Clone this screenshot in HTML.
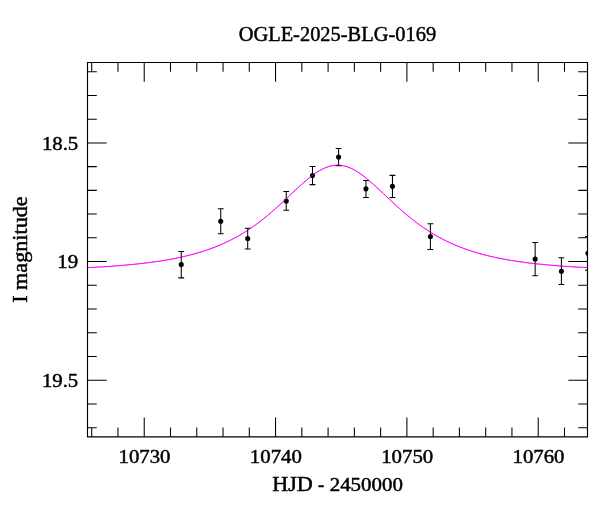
<!DOCTYPE html>
<html><head><meta charset="utf-8"><title>OGLE-2025-BLG-0169</title>
<style>html,body{margin:0;padding:0;background:#fff;overflow:hidden}svg{display:block}text{font-family:"Liberation Serif", serif;font-size:20px;fill:#000;stroke:#000;stroke-width:0.45px}text.n,tspan.n{font-size:19px}</style></head><body>
<svg width="600" height="512" viewBox="0 0 600 512">
<rect width="600" height="512" fill="#fff"/>
<defs><clipPath id="c"><rect x="87.5" y="62.5" width="500.5" height="374.3"/></clipPath></defs>
<path d="M87.5 267.63 L89.5 267.53 L91.5 267.43 L93.5 267.32 L95.5 267.21 L97.5 267.10 L99.5 266.99 L101.5 266.87 L103.5 266.74 L105.5 266.62 L107.5 266.49 L109.5 266.35 L111.5 266.21 L113.5 266.07 L115.5 265.92 L117.5 265.77 L119.5 265.61 L121.5 265.45 L123.5 265.28 L125.5 265.11 L127.5 264.93 L129.5 264.74 L131.5 264.55 L133.5 264.35 L135.5 264.15 L137.5 263.94 L139.5 263.72 L141.5 263.50 L143.5 263.27 L145.5 263.03 L147.5 262.78 L149.5 262.53 L151.5 262.26 L153.5 261.99 L155.5 261.71 L157.5 261.42 L159.5 261.12 L161.5 260.81 L163.5 260.48 L165.5 260.15 L167.5 259.81 L169.5 259.45 L171.5 259.08 L173.5 258.70 L175.5 258.31 L177.5 257.90 L179.5 257.48 L181.5 257.04 L183.5 256.59 L185.5 256.12 L187.5 255.64 L189.5 255.14 L191.5 254.62 L193.5 254.09 L195.5 253.53 L197.5 252.96 L199.5 252.37 L201.5 251.76 L203.5 251.12 L205.5 250.47 L207.5 249.79 L209.5 249.09 L211.5 248.36 L213.5 247.61 L215.5 246.84 L217.5 246.04 L219.5 245.21 L221.5 244.35 L223.5 243.47 L225.5 242.55 L227.5 241.61 L229.5 240.64 L231.5 239.63 L233.5 238.59 L235.5 237.52 L237.5 236.42 L239.5 235.28 L241.5 234.10 L243.5 232.90 L245.5 231.65 L247.5 230.37 L249.5 229.05 L251.5 227.70 L253.5 226.31 L255.5 224.88 L257.5 223.41 L259.5 221.91 L261.5 220.37 L263.5 218.80 L265.5 217.18 L267.5 215.54 L269.5 213.86 L271.5 212.15 L273.5 210.41 L275.5 208.64 L277.5 206.84 L279.5 205.02 L281.5 203.18 L283.5 201.33 L285.5 199.45 L287.5 197.57 L289.5 195.68 L291.5 193.79 L293.5 191.90 L295.5 190.02 L297.5 188.16 L299.5 186.32 L301.5 184.50 L303.5 182.73 L305.5 180.99 L307.5 179.30 L309.5 177.68 L311.5 176.12 L313.5 174.63 L315.5 173.22 L317.5 171.91 L319.5 170.69 L321.5 169.58 L323.5 168.58 L325.5 167.70 L327.5 166.94 L329.5 166.32 L331.5 165.82 L333.5 165.47 L335.5 165.25 L337.5 165.18 L339.5 165.25 L341.5 165.46 L343.5 165.81 L345.5 166.29 L347.5 166.91 L349.5 167.67 L351.5 168.54 L353.5 169.54 L355.5 170.64 L357.5 171.86 L359.5 173.17 L361.5 174.57 L363.5 176.05 L365.5 177.61 L367.5 179.24 L369.5 180.92 L371.5 182.65 L373.5 184.43 L375.5 186.24 L377.5 188.08 L379.5 189.94 L381.5 191.82 L383.5 193.71 L385.5 195.60 L387.5 197.49 L389.5 199.37 L391.5 201.25 L393.5 203.11 L395.5 204.95 L397.5 206.77 L399.5 208.57 L401.5 210.34 L403.5 212.08 L405.5 213.79 L407.5 215.47 L409.5 217.12 L411.5 218.73 L413.5 220.31 L415.5 221.85 L417.5 223.35 L419.5 224.82 L421.5 226.25 L423.5 227.64 L425.5 229.00 L427.5 230.32 L429.5 231.60 L431.5 232.84 L433.5 234.06 L435.5 235.23 L437.5 236.37 L439.5 237.48 L441.5 238.55 L443.5 239.59 L445.5 240.59 L447.5 241.57 L449.5 242.52 L451.5 243.43 L453.5 244.32 L455.5 245.17 L457.5 246.00 L459.5 246.81 L461.5 247.58 L463.5 248.33 L465.5 249.06 L467.5 249.76 L469.5 250.44 L471.5 251.10 L473.5 251.73 L475.5 252.34 L477.5 252.94 L479.5 253.51 L481.5 254.06 L483.5 254.60 L485.5 255.12 L487.5 255.62 L489.5 256.10 L491.5 256.57 L493.5 257.02 L495.5 257.46 L497.5 257.88 L499.5 258.29 L501.5 258.68 L503.5 259.07 L505.5 259.43 L507.5 259.79 L509.5 260.14 L511.5 260.47 L513.5 260.79 L515.5 261.10 L517.5 261.41 L519.5 261.70 L521.5 261.98 L523.5 262.25 L525.5 262.52 L527.5 262.77 L529.5 263.02 L531.5 263.26 L533.5 263.49 L535.5 263.72 L537.5 263.93 L539.5 264.14 L541.5 264.35 L543.5 264.54 L545.5 264.73 L547.5 264.92 L549.5 265.10 L551.5 265.27 L553.5 265.44 L555.5 265.60 L557.5 265.76 L559.5 265.91 L561.5 266.06 L563.5 266.21 L565.5 266.34 L567.5 266.48 L569.5 266.61 L571.5 266.74 L573.5 266.86 L575.5 266.98 L577.5 267.10 L579.5 267.21 L581.5 267.32 L583.5 267.42 L585.5 267.53 L587.5 267.63" fill="none" stroke="#ff00ff" stroke-width="1.0" clip-path="url(#c)"/>
<path d="M87.5 62.5 H587.5 V436.8 H87.5 Z" fill="none" stroke="#000" stroke-width="1.15"/>
<path d="M91.70 62.5 v9.3 M91.70 436.8 v-9.3 M117.96 62.5 v9.3 M117.96 436.8 v-9.3 M144.23 62.5 v19.2 M144.23 436.8 v-19.2 M170.50 62.5 v9.3 M170.50 436.8 v-9.3 M196.76 62.5 v9.3 M196.76 436.8 v-9.3 M223.03 62.5 v9.3 M223.03 436.8 v-9.3 M249.29 62.5 v9.3 M249.29 436.8 v-9.3 M275.56 62.5 v19.2 M275.56 436.8 v-19.2 M301.83 62.5 v9.3 M301.83 436.8 v-9.3 M328.09 62.5 v9.3 M328.09 436.8 v-9.3 M354.36 62.5 v9.3 M354.36 436.8 v-9.3 M380.62 62.5 v9.3 M380.62 436.8 v-9.3 M406.89 62.5 v19.2 M406.89 436.8 v-19.2 M433.16 62.5 v9.3 M433.16 436.8 v-9.3 M459.42 62.5 v9.3 M459.42 436.8 v-9.3 M485.69 62.5 v9.3 M485.69 436.8 v-9.3 M511.95 62.5 v9.3 M511.95 436.8 v-9.3 M538.22 62.5 v19.2 M538.22 436.8 v-19.2 M564.49 62.5 v9.3 M564.49 436.8 v-9.3 M87.5 71.71 h9.3 M587.5 71.71 h-9.3 M87.5 95.44 h9.3 M587.5 95.44 h-9.3 M87.5 119.17 h9.3 M587.5 119.17 h-9.3 M87.5 142.90 h19.2 M587.5 142.90 h-19.2 M87.5 166.63 h9.3 M587.5 166.63 h-9.3 M87.5 190.36 h9.3 M587.5 190.36 h-9.3 M87.5 214.09 h9.3 M587.5 214.09 h-9.3 M87.5 237.82 h9.3 M587.5 237.82 h-9.3 M87.5 261.55 h19.2 M587.5 261.55 h-19.2 M87.5 285.28 h9.3 M587.5 285.28 h-9.3 M87.5 309.01 h9.3 M587.5 309.01 h-9.3 M87.5 332.74 h9.3 M587.5 332.74 h-9.3 M87.5 356.47 h9.3 M587.5 356.47 h-9.3 M87.5 380.20 h19.2 M587.5 380.20 h-19.2 M87.5 403.93 h9.3 M587.5 403.93 h-9.3 M87.5 427.66 h9.3 M587.5 427.66 h-9.3" fill="none" stroke="#000" stroke-width="1.05"/>
<g clip-path="url(#c)"><path d="M181.27 251.50 V277.85 M178.37 251.50 h5.8 M178.37 277.85 h5.8 M220.74 208.70 V233.70 M217.84 208.70 h5.8 M217.84 233.70 h5.8 M247.70 228.20 V248.90 M244.80 228.20 h5.8 M244.80 248.90 h5.8 M286.25 191.50 V210.20 M283.35 191.50 h5.8 M283.35 210.20 h5.8 M312.50 166.40 V184.60 M309.60 166.40 h5.8 M309.60 184.60 h5.8 M338.60 148.40 V165.60 M335.70 148.40 h5.8 M335.70 165.60 h5.8 M365.95 180.40 V197.40 M363.05 180.40 h5.8 M363.05 197.40 h5.8 M392.45 175.35 V197.40 M389.55 175.35 h5.8 M389.55 197.40 h5.8 M430.40 223.70 V249.40 M427.50 223.70 h5.8 M427.50 249.40 h5.8 M535.15 242.50 V275.80 M532.25 242.50 h5.8 M532.25 275.80 h5.8 M561.40 257.80 V284.50 M558.50 257.80 h5.8 M558.50 284.50 h5.8 M587.90 236.40 V270.30 M585.00 236.40 h5.8 M585.00 270.30 h5.8" fill="none" stroke="#000" stroke-width="1.05"/><circle cx="181.27" cy="264.60" r="2.55"/><circle cx="220.74" cy="221.20" r="2.55"/><circle cx="247.70" cy="238.50" r="2.55"/><circle cx="286.25" cy="201.00" r="2.55"/><circle cx="312.50" cy="175.60" r="2.55"/><circle cx="338.60" cy="157.10" r="2.55"/><circle cx="365.95" cy="188.85" r="2.55"/><circle cx="392.45" cy="186.30" r="2.55"/><circle cx="430.40" cy="236.50" r="2.55"/><circle cx="535.15" cy="259.05" r="2.55"/><circle cx="561.40" cy="271.25" r="2.55"/><circle cx="587.90" cy="253.30" r="2.55"/></g>
<path d="M87.5 267.63 L89.5 267.53 L91.5 267.43 L93.5 267.32 L95.5 267.21 L97.5 267.10 L99.5 266.99 L101.5 266.87 L103.5 266.74 L105.5 266.62 L107.5 266.49 L109.5 266.35 L111.5 266.21 L113.5 266.07 L115.5 265.92 L117.5 265.77 L119.5 265.61 L121.5 265.45 L123.5 265.28 L125.5 265.11 L127.5 264.93 L129.5 264.74 L131.5 264.55 L133.5 264.35 L135.5 264.15 L137.5 263.94 L139.5 263.72 L141.5 263.50 L143.5 263.27 L145.5 263.03 L147.5 262.78 L149.5 262.53 L151.5 262.26 L153.5 261.99 L155.5 261.71 L157.5 261.42 L159.5 261.12 L161.5 260.81 L163.5 260.48 L165.5 260.15 L167.5 259.81 L169.5 259.45 L171.5 259.08 L173.5 258.70 L175.5 258.31 L177.5 257.90 L179.5 257.48 L181.5 257.04 L183.5 256.59 L185.5 256.12 L187.5 255.64 L189.5 255.14 L191.5 254.62 L193.5 254.09 L195.5 253.53 L197.5 252.96 L199.5 252.37 L201.5 251.76 L203.5 251.12 L205.5 250.47 L207.5 249.79 L209.5 249.09 L211.5 248.36 L213.5 247.61 L215.5 246.84 L217.5 246.04 L219.5 245.21 L221.5 244.35 L223.5 243.47 L225.5 242.55 L227.5 241.61 L229.5 240.64 L231.5 239.63 L233.5 238.59 L235.5 237.52 L237.5 236.42 L239.5 235.28 L241.5 234.10 L243.5 232.90 L245.5 231.65 L247.5 230.37 L249.5 229.05 L251.5 227.70 L253.5 226.31 L255.5 224.88 L257.5 223.41 L259.5 221.91 L261.5 220.37 L263.5 218.80 L265.5 217.18 L267.5 215.54 L269.5 213.86 L271.5 212.15 L273.5 210.41 L275.5 208.64 L277.5 206.84 L279.5 205.02 L281.5 203.18 L283.5 201.33 L285.5 199.45 L287.5 197.57 L289.5 195.68 L291.5 193.79 L293.5 191.90 L295.5 190.02 L297.5 188.16 L299.5 186.32 L301.5 184.50 L303.5 182.73 L305.5 180.99 L307.5 179.30 L309.5 177.68 L311.5 176.12 L313.5 174.63 L315.5 173.22 L317.5 171.91 L319.5 170.69 L321.5 169.58 L323.5 168.58 L325.5 167.70 L327.5 166.94 L329.5 166.32 L331.5 165.82 L333.5 165.47 L335.5 165.25 L337.5 165.18 L339.5 165.25 L341.5 165.46 L343.5 165.81 L345.5 166.29 L347.5 166.91 L349.5 167.67 L351.5 168.54 L353.5 169.54 L355.5 170.64 L357.5 171.86 L359.5 173.17 L361.5 174.57 L363.5 176.05 L365.5 177.61 L367.5 179.24 L369.5 180.92 L371.5 182.65 L373.5 184.43 L375.5 186.24 L377.5 188.08 L379.5 189.94 L381.5 191.82 L383.5 193.71 L385.5 195.60 L387.5 197.49 L389.5 199.37 L391.5 201.25 L393.5 203.11 L395.5 204.95 L397.5 206.77 L399.5 208.57 L401.5 210.34 L403.5 212.08 L405.5 213.79 L407.5 215.47 L409.5 217.12 L411.5 218.73 L413.5 220.31 L415.5 221.85 L417.5 223.35 L419.5 224.82 L421.5 226.25 L423.5 227.64 L425.5 229.00 L427.5 230.32 L429.5 231.60 L431.5 232.84 L433.5 234.06 L435.5 235.23 L437.5 236.37 L439.5 237.48 L441.5 238.55 L443.5 239.59 L445.5 240.59 L447.5 241.57 L449.5 242.52 L451.5 243.43 L453.5 244.32 L455.5 245.17 L457.5 246.00 L459.5 246.81 L461.5 247.58 L463.5 248.33 L465.5 249.06 L467.5 249.76 L469.5 250.44 L471.5 251.10 L473.5 251.73 L475.5 252.34 L477.5 252.94 L479.5 253.51 L481.5 254.06 L483.5 254.60 L485.5 255.12 L487.5 255.62 L489.5 256.10 L491.5 256.57 L493.5 257.02 L495.5 257.46 L497.5 257.88 L499.5 258.29 L501.5 258.68 L503.5 259.07 L505.5 259.43 L507.5 259.79 L509.5 260.14 L511.5 260.47 L513.5 260.79 L515.5 261.10 L517.5 261.41 L519.5 261.70 L521.5 261.98 L523.5 262.25 L525.5 262.52 L527.5 262.77 L529.5 263.02 L531.5 263.26 L533.5 263.49 L535.5 263.72 L537.5 263.93 L539.5 264.14 L541.5 264.35 L543.5 264.54 L545.5 264.73 L547.5 264.92 L549.5 265.10 L551.5 265.27 L553.5 265.44 L555.5 265.60 L557.5 265.76 L559.5 265.91 L561.5 266.06 L563.5 266.21 L565.5 266.34 L567.5 266.48 L569.5 266.61 L571.5 266.74 L573.5 266.86 L575.5 266.98 L577.5 267.10 L579.5 267.21 L581.5 267.32 L583.5 267.42 L585.5 267.53 L587.5 267.63" fill="none" stroke="#ff00ff" stroke-opacity="0.55" stroke-width="1.0" clip-path="url(#c)"/>
<text x="337.4" y="41.3" text-anchor="middle" textLength="197.5" lengthAdjust="spacingAndGlyphs">OGLE-2025-BLG-0169</text>
<text x="78.2" y="149.5" text-anchor="end" textLength="36.3" lengthAdjust="spacingAndGlyphs" class="n">18.5</text>
<text x="78.2" y="268.15" text-anchor="end" textLength="20.9" lengthAdjust="spacingAndGlyphs" class="n">19</text>
<text x="78.2" y="386.8" text-anchor="end" textLength="36.3" lengthAdjust="spacingAndGlyphs" class="n">19.5</text>
<text x="144.53" y="462.6" text-anchor="middle" textLength="52" lengthAdjust="spacingAndGlyphs" class="n">10730</text>
<text x="275.86" y="462.6" text-anchor="middle" textLength="52" lengthAdjust="spacingAndGlyphs" class="n">10740</text>
<text x="407.19" y="462.6" text-anchor="middle" textLength="52" lengthAdjust="spacingAndGlyphs" class="n">10750</text>
<text x="538.52" y="462.6" text-anchor="middle" textLength="52" lengthAdjust="spacingAndGlyphs" class="n">10760</text>
<text y="491.1"><tspan x="272.2" textLength="40.6" lengthAdjust="spacingAndGlyphs">HJD</tspan><tspan x="313.4" textLength="15.6" lengthAdjust="spacingAndGlyphs"> - </tspan><tspan class="n" x="329.7" textLength="73.2" lengthAdjust="spacingAndGlyphs">2450000</tspan></text>
<text transform="translate(26.6 249.6) rotate(-90)" text-anchor="middle" textLength="106.5" lengthAdjust="spacingAndGlyphs">I magnitude</text>
</svg></body></html>
